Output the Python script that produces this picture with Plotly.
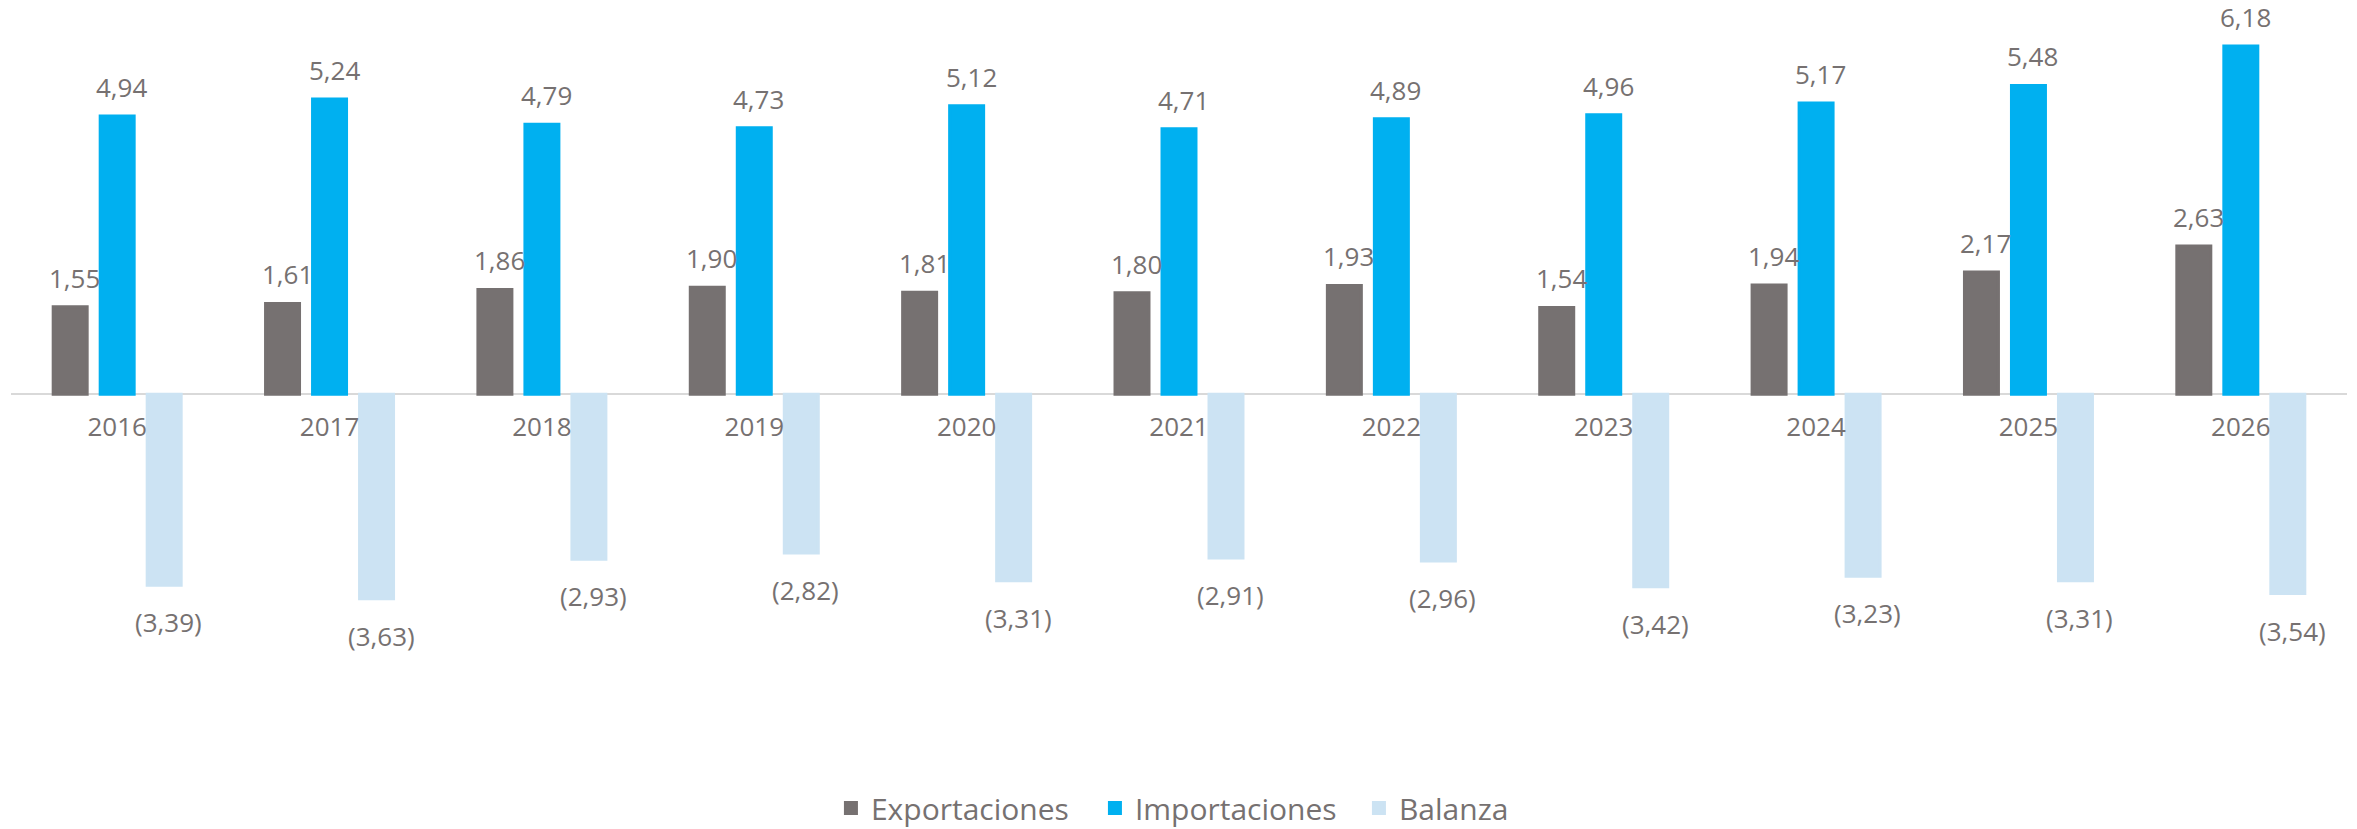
import plotly.graph_objects as go

years = ["2016", "2017", "2018", "2019", "2020", "2021", "2022", "2023", "2024", "2025", "2026"]
exportaciones = [1.55, 1.61, 1.86, 1.90, 1.81, 1.80, 1.93, 1.54, 1.94, 2.17, 2.63]
importaciones = [4.94, 5.24, 4.79, 4.73, 5.12, 4.71, 4.89, 4.96, 5.17, 5.48, 6.18]
balanza = [-3.39, -3.63, -2.93, -2.82, -3.31, -2.91, -2.96, -3.42, -3.23, -3.31, -3.54]

C_EXP = "#767171"
C_IMP = "#00B0F0"
C_BAL = "#CCE3F3"
TXT = "#767171"
FONT = "Open Sans"

YMIN, YMAX = -5.5, 6.82


def fmt(v):
    s = f"{abs(v):.2f}".replace(".", ",")
    return f"({s})" if v < 0 else s


fig = go.Figure()
for name, vals, col in (("Exportaciones", exportaciones, C_EXP),
                        ("Importaciones", importaciones, C_IMP),
                        ("Balanza", balanza, C_BAL)):
    fig.add_trace(go.Bar(name=name, x=years, y=vals, marker_color=col,
                         marker_line=dict(color=col, width=3)))

# value labels anchored to the data through the axis scales (category index)
annotations = []
for series, dx in ((exportaciones, -47), (importaciones, 0), (balanza, 47)):
    for i, v in enumerate(series):
        annotations.append(dict(
            x=i, y=v, xref="x", yref="y", text=fmt(v), showarrow=False,
            xshift=dx + 4.5, yshift=29 if v >= 0 else -37,
            font=dict(family=FONT, size=26, color=TXT),
        ))

fig.update_layout(
    width=2357, height=829,
    margin=dict(l=11, r=10, t=10, b=125, autoexpand=False),
    paper_bgcolor="white", plot_bgcolor="white",
    barmode="group", bargap=0.336, bargroupgap=0.277,
    showlegend=True,
    legend=dict(orientation="h", x=0.351, xanchor="left", y=-0.150, yanchor="middle",
                font=dict(family=FONT, size=30, color=TXT), entrywidth=219,
                itemsizing="constant", traceorder="normal"),
    annotations=annotations,
    xaxis=dict(type="category", range=[-0.5, len(years) - 0.5],
               anchor="free", position=-YMIN / (YMAX - YMIN),
               showline=False, showgrid=False, ticks="", ticklabelstandoff=15,
               tickfont=dict(family=FONT, size=26, color=TXT)),
    yaxis=dict(range=[YMIN, YMAX], showgrid=False, showticklabels=False, ticks="",
               zeroline=True, zerolinecolor="#D9D9D9", zerolinewidth=2),
)

fig.write_html("out.html", config={"displayModeBar": False},
               post_script="document.body.style.margin='0';document.body.style.overflow='hidden';")
